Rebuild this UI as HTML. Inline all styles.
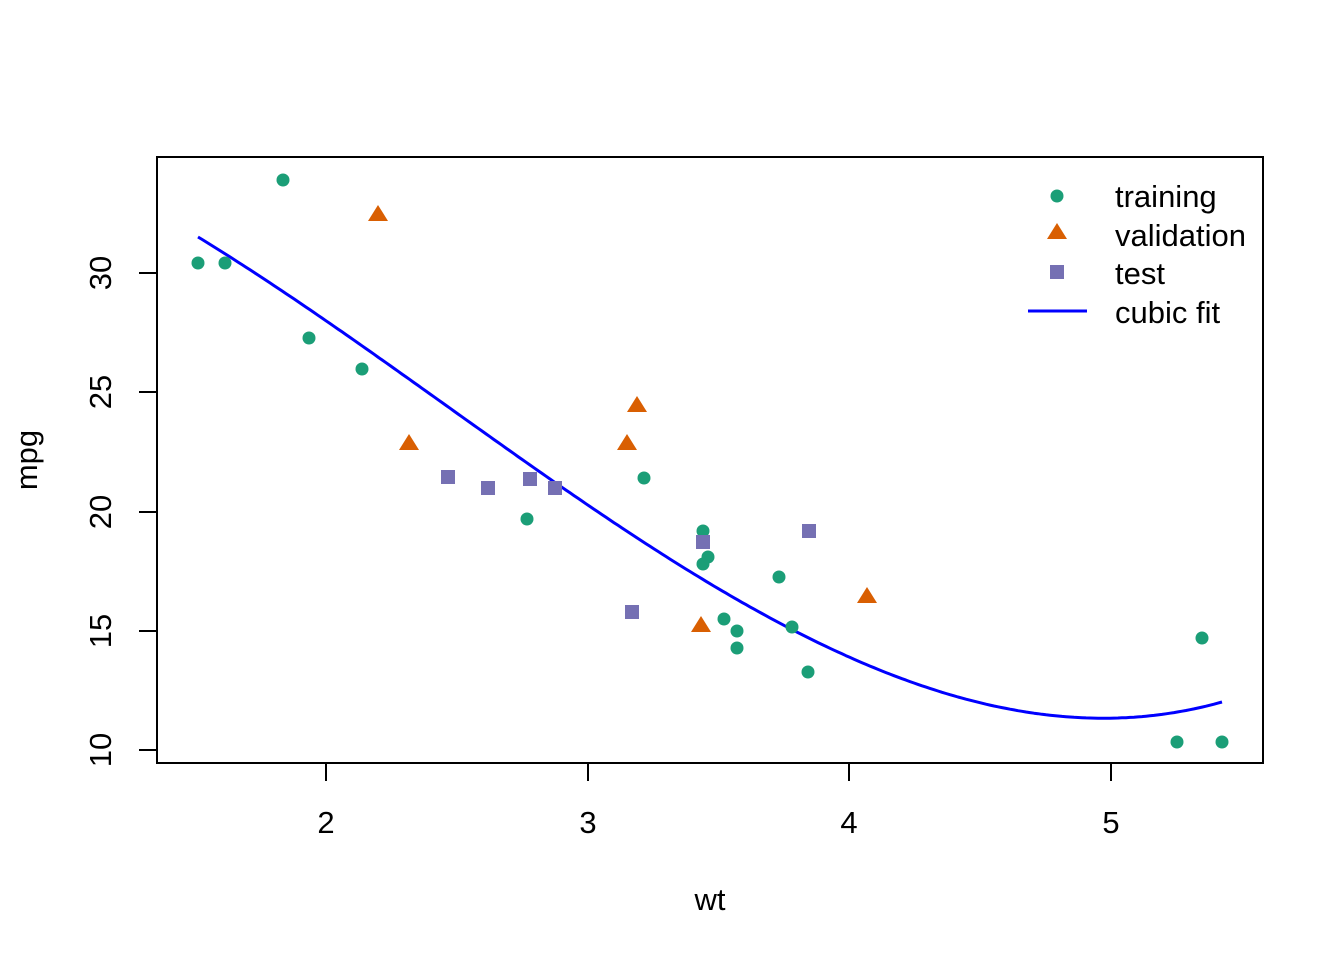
<!DOCTYPE html>
<html><head><style>body{margin:0;background:#fff}</style></head><body>
<svg width="1344" height="960" xmlns="http://www.w3.org/2000/svg" font-family="Liberation Sans, sans-serif" font-size="31">
<rect x="157" y="157" width="1106" height="606" fill="none" stroke="#000" stroke-width="2"/>
<g stroke="#000" stroke-width="2">
<line x1="326" y1="763" x2="326" y2="781"/><line x1="588" y1="763" x2="588" y2="781"/><line x1="849" y1="763" x2="849" y2="781"/><line x1="1111" y1="763" x2="1111" y2="781"/>
<line x1="157" y1="273" x2="139" y2="273"/><line x1="157" y1="392" x2="139" y2="392"/><line x1="157" y1="512" x2="139" y2="512"/><line x1="157" y1="631" x2="139" y2="631"/><line x1="157" y1="750" x2="139" y2="750"/>
</g>
<g text-anchor="middle">
<text x="326" y="833">2</text><text x="588" y="833">3</text><text x="849" y="833">4</text><text x="1111" y="833">5</text>
<text transform="translate(111,273) rotate(-90)">30</text>
<text transform="translate(111,392) rotate(-90)">25</text>
<text transform="translate(111,512) rotate(-90)">20</text>
<text transform="translate(111,631) rotate(-90)">15</text>
<text transform="translate(111,750) rotate(-90)">10</text>
<text x="710" y="910">wt</text>
<text transform="translate(37,460) rotate(-90)">mpg</text>
</g>
<path id="fit" d="M198,237 L260,275 L326,318 L400,370 L470,422 L540,472 L588,507 L650,549 L700,580 L760,616 L849,657 L920,686 L1000,708 L1060,718 L1097,721 L1140,718 L1180,711 L1222,702" fill="none" stroke="#0000ff" stroke-width="3" stroke-linejoin="round"/>
<g fill="#1B9E77">
<circle cx="198" cy="263" r="6.5"/><circle cx="225" cy="263" r="6.5"/><circle cx="283" cy="180" r="6.5"/><circle cx="309" cy="338" r="6.5"/><circle cx="362" cy="369" r="6.5"/><circle cx="527" cy="519" r="6.5"/><circle cx="644" cy="478" r="6.5"/><circle cx="703" cy="531" r="6.5"/><circle cx="703" cy="564" r="6.5"/><circle cx="708" cy="557" r="6.5"/><circle cx="724" cy="619" r="6.5"/><circle cx="737" cy="631" r="6.5"/><circle cx="737" cy="648" r="6.5"/><circle cx="779" cy="577" r="6.5"/><circle cx="792" cy="627" r="6.5"/><circle cx="808" cy="672" r="6.5"/><circle cx="1177" cy="742" r="6.5"/><circle cx="1202" cy="638" r="6.5"/><circle cx="1222" cy="742" r="6.5"/>
<circle cx="1057" cy="196" r="6.5"/>
</g>
<g fill="#D95F02">
<path d="M378,205 l10,16 h-20z"/><path d="M409,434 l10,16 h-20z"/><path d="M627,434 l10,16 h-20z"/><path d="M637,396 l10,16 h-20z"/><path d="M701,616 l10,16 h-20z"/><path d="M867,587 l10,16 h-20z"/>
<path d="M1057,223 l10,16 h-20z"/>
</g>
<g fill="#7570B3">
<rect x="441" y="470" width="14" height="14"/><rect x="481" y="481" width="14" height="14"/><rect x="523" y="472" width="14" height="14"/><rect x="548" y="481" width="14" height="14"/><rect x="625" y="605" width="14" height="14"/><rect x="696" y="535" width="14" height="14"/><rect x="802" y="524" width="14" height="14"/>
<rect x="1050" y="265" width="14" height="14"/>
</g>
<line x1="1028" y1="311" x2="1087" y2="311" stroke="#0000ff" stroke-width="3"/>
<text x="1115" y="207">training</text>
<text x="1115" y="246">validation</text>
<text x="1115" y="284">test</text>
<text x="1115" y="323">cubic fit</text>
</svg>
<script>
(function(){
var P=[[198,237],[540,472],[849,657],[1222,702]];
function f(x){var s=0;for(var i=0;i<4;i++){var t=P[i][1];for(var j=0;j<4;j++)if(j!=i)t*=(x-P[j][0])/(P[i][0]-P[j][0]);s+=t;}return s;}
var d="";for(var x=198;x<=1222;x+=4){d+=(x==198?"M":"L")+x+","+f(x).toFixed(1)+" ";}
d+="L1222,702";
document.getElementById("fit").setAttribute("d",d);
})();
</script>
</body></html>
